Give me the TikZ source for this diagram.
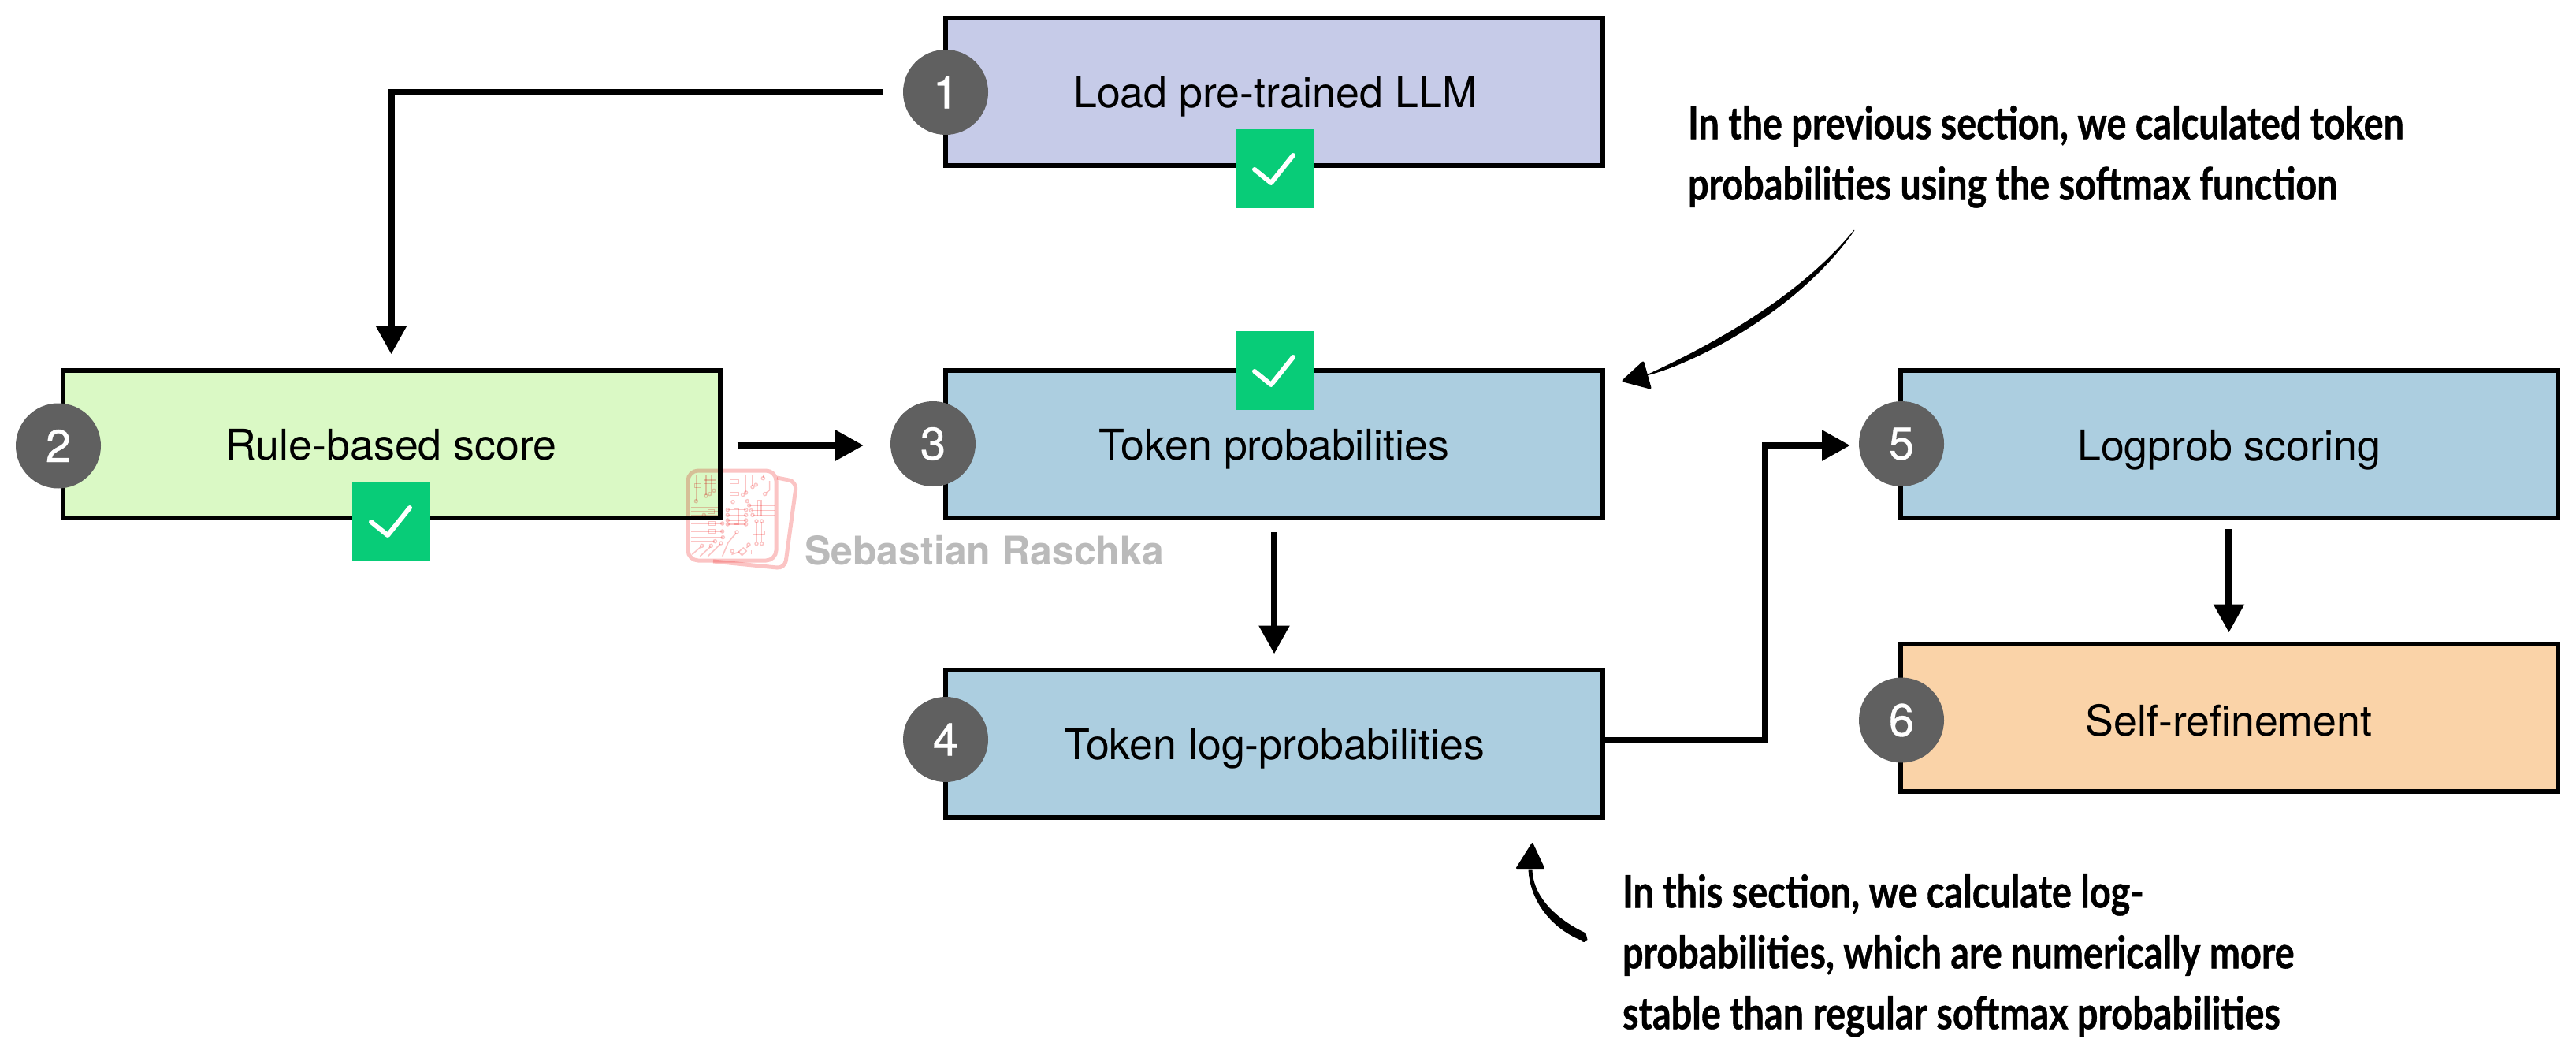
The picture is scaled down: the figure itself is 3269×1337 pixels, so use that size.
\documentclass[tikz,border=0pt]{standalone}
\usepackage{fontspec}
\setmainfont{TeX Gyre Heros}
\newfontfamily\annotfont[FakeStretch=0.82,FakeBold=0.7]{Lato}
\newfontfamily\digitfont[FakeBold=0.6]{TeX Gyre Heros}
\usetikzlibrary{arrows.meta,calc}
\definecolor{boxpurple}{HTML}{C6CBE8}
\definecolor{boxgreen}{HTML}{DAF9C5}
\definecolor{boxblue}{HTML}{ACCEE0}
\definecolor{boxorange}{HTML}{FAD3A8}
\definecolor{badgegrey}{HTML}{606060}
\definecolor{checkgreen}{HTML}{08CC78}
\definecolor{wmpink}{HTML}{FBC4C4}
\definecolor{wmgrey}{HTML}{BABABA}
\tikzset{
  stepbox/.style={draw=black,line width=6pt,rectangle,minimum width=834pt,minimum height=187pt,
    inner sep=0pt,outer sep=0pt,text height=53pt,text depth=12pt,text=black,
    font=\fontsize{53.7}{60}\selectfont},
  badge/.style={circle,fill=badgegrey,minimum size=108pt,inner sep=0pt,outer sep=0pt,text=white,
    font=\digitfont\fontsize{58}{60}\selectfont},
  checkbox/.style={rectangle,fill=checkgreen,minimum width=99pt,minimum height=100pt,inner sep=0pt,outer sep=0pt},
  flow/.style={line width=8.5pt,-{Triangle[length=36pt,width=37pt]}},
  note/.style={anchor=north west,align=left,inner sep=0pt,outer sep=0pt,text=black,
    font=\annotfont\bfseries\fontsize{57}{77}\selectfont},
  wmline/.style={draw=wmpink,line width=1.6pt},
  wmdot/.style={draw=wmpink,line width=1.4pt,fill=none}
}
\begin{document}
\begin{tikzpicture}[x=1pt,y=-1pt]
\useasboundingbox (0,0) rectangle (3269,1337);
% boxes
\node[stepbox,fill=boxpurple] (b1) at (1616.5,116.5) {\hspace*{4pt}Load pre-trained LLM};
\node[stepbox,fill=boxgreen]  (b2) at (496.5,563) {Rule-based score};
\node[stepbox,fill=boxblue]   (b3) at (1617,563) {Token probabilities};
\node[stepbox,fill=boxblue]   (b4) at (1617,943) {Token log-probabilities};
\node[stepbox,fill=boxblue]   (b5) at (2828.5,563.5) {Logprob scoring};
\node[stepbox,fill=boxorange,text height=55pt,text depth=9pt] (b6) at (2828.5,910) {Self-refinement};
% badges
\node[badge] (c1) at (1200,117) {1};
\node[badge] (c2) at (74,565.5) {2};
\node[badge] (c3) at (1184,563) {3};
\node[badge] (c4) at (1200,938) {4};
\node[badge] (c5) at (2413,563) {5};
\node[badge] (c6) at (2413,913.5) {6};
% check marks
\node[checkbox] (k1) at (1617,214) {};
\node[checkbox] (k2) at (496,661) {};
\node[checkbox] (k3) at (1617,470) {};
\foreach \k in {k1,k2,k3}{
  \draw[white,line width=6pt,line cap=round,line join=round]
    ([shift={(-25,1)}]\k.center) -- ([shift={(-4,18)}]\k.center) -- ([shift={(24,-17)}]\k.center);
}
% connectors
\draw[flow,shorten <=25pt,shorten >=20pt] (c1.west) -| (b2.north);
\coordinate (y23) at (0,565);
\draw[flow,shorten <=22pt,shorten >=34pt] (b2.east |- y23) -- (c3.west |- y23);
\draw[flow,shorten <=18pt,shorten >=20pt] (b3.south) -- (b4.north);
\draw[flow,shorten <=14pt,shorten >=14pt] (b5.south) -- (b6.north);
\coordinate (e1) at (2240,939);
\coordinate (e2) at (2240,565);
\draw[flow,shorten >=11pt] (b4.east |- e1) -- (e1) -- (e2) -- (c5.west |- e2);
% notes
\node[note] (n1) at (2142,134) {In the previous section, we calculated token\\probabilities using the softmax function};
\node[note] (n2) at (2059,1109) {In this section, we calculate log-\\probabilities, which are numerically more\\stable than regular softmax probabilities};
% curved note arrows
\coordinate (s1) at (2353,292);
\coordinate (e3) at (2089.5,476);
\coordinate (t1) at (2060,483);
\fill[black,draw=black,line width=.8pt] (s1) .. controls (2278,400) and (2140,464) .. (e3)
   .. controls (2132,456) and (2272,392) .. (s1) -- cycle;
\fill[black,draw=black,line width=3pt,line join=round] (t1) -- (2085,460) -- (2094,492) -- cycle;
\coordinate (s2) at (2010,1187);
\coordinate (e4) at (1942,1103);
\coordinate (t2) at (1944.5,1070);
\fill[black,draw=black,line width=1pt,line join=round] (2012,1184) .. controls (1978,1168) and (1945,1140) .. (1944,1103)
   -- (1940,1103) .. controls (1942,1142) and (1968,1176) .. (2006,1192)
   arc[start angle=210,end angle=320,x radius=5,y radius=-5] -- cycle;
\fill[black,draw=black,line width=2pt,line join=round] (t2) -- (1925,1101) -- (1959,1101) -- cycle;
% watermark
\begin{scope}[blend mode=multiply]
\draw[draw=wmpink,line width=5pt,rounded corners=10pt] (986,606) -- (1011,611) -- (996,721) -- (905,712);
\draw[draw=wmpink,line width=5pt,rounded corners=13pt] (873,597) rectangle (985,711);
\begin{scope}[shift={(860,585)},x=1pt/3,y=-1pt/3]
\foreach \a/\b/\c/\d in {
  65/85/88/100,100/72/145/85,200/70/232/85,200/118/232/130,305/148/318/208,215/180/232/240,
  115/185/140/200,118/230/142/244,118/260/142/274,287/265/330/280}
  {\draw[wmline] (\a,\b) rectangle (\c,\d);}
\foreach \a/\b/\c/\d in {
  70/55/70/150,108/55/108/130,128/55/128/120,215/50/215/150,245/50/245/125,258/50/258/120,
  285/50/285/95,298/50/298/90,325/50/325/62,
  265/152/370/152,270/168/370/168,280/188/370/188,285/205/370/205,
  190/185/260/185,190/205/260/205,190/225/260/225,190/240/260/240,
  50/175/165/175,50/192/165/192,50/205/165/205,50/222/100/222,
  50/237/170/237,50/267/170/267,50/290/170/290,50/305/140/305,
  300/232/300/310,320/232/320/310}
  {\draw[wmline] (\a,\b) -- (\c,\d);}
\foreach \a/\b in {70/152,108/132,122/125,138/112,210/155,248/128,260/120,285/98,298/90,325/65,
  332/125,265/152,272/168,280/188,285/205,190/185,190/205,190/225,190/240,260/185,260/205,260/225,260/240,
  100/205,170/237,170/267,172/290,142/305,300/228,320/228,300/314,320/314,
  92/322,127/322,165/312,225/270,270/318,208/342}
  {\draw[wmdot] (\a,\b) circle[radius=6];}
\draw[wmline] (350,75) -- (350,110) -- (335,122);
\draw[wmline] (55,355) -- (88,326);
\draw[wmline] (85,362) -- (124,326);
\draw[wmline] (115,362) -- (162,316);
\draw[wmline] (170,362) -- (192,310) -- (222,274);
\draw[wmline] (205,355) -- (235,345);
\draw[wmline] (232,345) -- (250,330) -- (262,342) -- (245,358) -- cycle;
\draw[wmline] (262,330) -- (272,320);
\draw[wmline] (280,355) -- (280,340);
\end{scope}
\end{scope}
\node[anchor=base west,inner sep=0pt,text=wmgrey,font=\bfseries\fontsize{50}{60}\selectfont] (wm) at (1021,716) {Sebastian Raschka};
\end{tikzpicture}
\end{document}
